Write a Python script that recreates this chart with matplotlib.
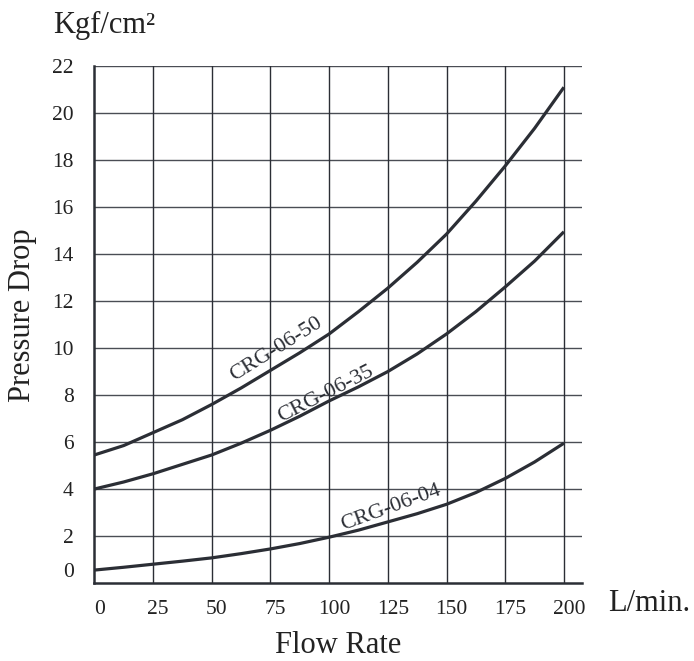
import matplotlib
matplotlib.use("Agg")
import matplotlib.pyplot as plt
from matplotlib.transforms import ScaledTranslation

# flow rate (L/min) and pressure drop (Kgf/cm2)
flow = [0, 12.5, 25, 37.5, 50, 62.5, 75, 87.5, 100, 112.5, 125, 137.5, 150, 162.5, 175, 187.5, 200]
crg_06_50 = [5.45, 5.85, 6.4, 6.95, 7.6, 8.3, 9.05, 9.8, 10.6, 11.55, 12.55, 13.65, 14.85, 16.25, 17.75, 19.35, 21.1]
crg_06_35 = [4.0, 4.3, 4.65, 5.05, 5.45, 5.95, 6.5, 7.1, 7.75, 8.35, 9.0, 9.75, 10.6, 11.55, 12.6, 13.7, 14.95]
crg_06_04 = [0.55, 0.67, 0.8, 0.93, 1.07, 1.25, 1.45, 1.68, 1.95, 2.25, 2.6, 2.95, 3.35, 3.85, 4.45, 5.15, 5.95]

x_ticks = [0, 25, 50, 75, 100, 125, 150, 175, 200]
y_ticks = [0.55, 2, 4, 6, 8, 10, 12, 14, 16, 18, 20, 22]
y_tick_labels = ["0", "2", "4", "6", "8", "10", "12", "14", "16", "18", "20", "22"]

curves = {
    "CRG-06-50": (crg_06_50, (77.5, 9.95, 32)),
    "CRG-06-35": (crg_06_35, (98.5, 8.05, 27)),
    "CRG-06-04": (crg_06_04, (126.5, 3.2, 20)),
}

plt.rcParams['font.family'] = ['Liberation Serif', 'DejaVu Serif']
ink = "#2b2e35"
grid_col = "#4a4d54"

fig = plt.figure(figsize=(6.94, 6.61), dpi=100)
ax = fig.add_axes([0.136, 0.118, 0.7026, 0.782])
ax.set_xlim(0, 207.7)
ax.set_ylim(0, 22)

# grid drawn by hand so the bottom row stays open and the lines run past 200
for yv in range(2, 23, 2):
    ax.axhline(yv, color=grid_col, lw=1.0, zorder=1)
for xv in x_ticks[1:]:
    ax.plot([xv, xv], [0, 22], color=ink, lw=1.0, zorder=1)

for name, (vals, (lx, ly, rot)) in curves.items():
    ax.plot(flow, vals, color=ink, lw=2.3, zorder=3, solid_capstyle='butt')
    ax.text(lx, ly, name, rotation=rot, rotation_mode='anchor', ha='center', va='center',
            fontsize=16, color=ink, zorder=4)

for s in ['top', 'right']:
    ax.spines[s].set_visible(False)
for s in ['left', 'bottom']:
    ax.spines[s].set_color(ink)
    ax.spines[s].set_linewidth(1.8)

ax.set_xticks(x_ticks)
ax.set_xticklabels([str(v) for v in x_ticks])
ax.set_yticks(y_ticks)
ax.set_yticklabels(y_tick_labels)
ax.tick_params(axis='both', length=0, labelsize=15.5, colors="#222222")
ax.tick_params(axis='x', pad=12)
ax.tick_params(axis='y', pad=15)
shift = ScaledTranslation(5 / 100, 0, fig.dpi_scale_trans)
for lbl in ax.get_xticklabels():
    lbl.set_transform(lbl.get_transform() + shift)

fig.text(0.876, 0.0877, "L/min.", ha='left', va='center', fontsize=22, color="#222222")
fig.text(0.487, 0.024, "Flow Rate", ha='center', va='center', fontsize=22, color="#222222")
fig.text(0.032, 0.523, "Pressure Drop", ha='center', va='center', rotation=90, fontsize=22, color="#222222")
fig.text(0.076, 0.961, "Kgf/cm²", ha='left', va='center', fontsize=22, color="#222222")

fig.savefig("out.png", dpi=100)
